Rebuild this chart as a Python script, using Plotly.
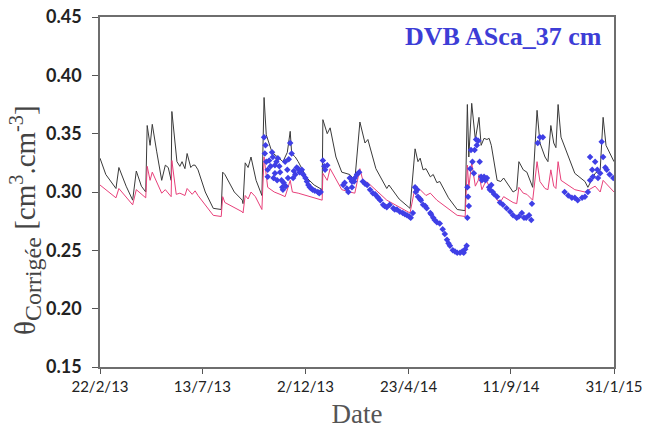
import pandas as pd
import plotly.graph_objects as go

start = pd.Timestamp("2013-02-22")

# Simulated upper curve (black): day offset from 22/2/13, theta
black_days = [0, 8, 22, 26, 36, 45, 50, 57, 63, 65, 69, 72, 78, 85, 90, 94, 98, 99, 106, 110, 113, 117,
              120, 125, 128, 131, 135, 145, 156, 167, 169, 172, 185, 196, 197, 200, 204, 208, 215, 223,
              226, 229, 237, 245, 252, 258, 262, 264, 269, 273, 285, 295, 306, 307, 313, 317, 325, 333,
              344, 351, 358, 365, 369, 380, 395, 398, 412, 427, 434, 438, 441, 445, 449, 455, 459, 464,
              468, 480, 492, 503, 506, 508, 512, 517, 521, 522, 525, 529, 533, 536, 539, 547, 552, 556,
              569, 574, 577, 583, 588, 596, 602, 606, 613, 617, 621, 625, 628, 631, 635, 654, 668, 672,
              682, 689, 693, 697, 708]
black_vals = [0.329, 0.315, 0.303, 0.321, 0.305, 0.293, 0.318, 0.305, 0.300, 0.357, 0.340, 0.358, 0.335,
              0.310, 0.323, 0.321, 0.310, 0.369, 0.326, 0.322, 0.326, 0.320, 0.333, 0.321, 0.323, 0.323,
              0.319, 0.300, 0.286, 0.285, 0.317, 0.315, 0.300, 0.293, 0.290, 0.325, 0.321, 0.330, 0.310,
              0.297, 0.381, 0.349, 0.334, 0.330, 0.326, 0.334, 0.352, 0.333, 0.330, 0.326, 0.312, 0.306,
              0.302, 0.362, 0.350, 0.355, 0.330, 0.317, 0.315, 0.310, 0.360, 0.342, 0.345, 0.320, 0.303,
              0.306, 0.294, 0.286, 0.337, 0.326, 0.329, 0.319, 0.320, 0.313, 0.315, 0.308, 0.309, 0.295,
              0.285, 0.284, 0.375, 0.330, 0.376, 0.345, 0.363, 0.364, 0.340, 0.346, 0.345, 0.346, 0.340,
              0.310, 0.309, 0.312, 0.300, 0.302, 0.326, 0.319, 0.317, 0.304, 0.370, 0.342, 0.330, 0.326,
              0.357, 0.342, 0.338, 0.375, 0.347, 0.316, 0.309, 0.304, 0.316, 0.319, 0.364, 0.340, 0.326]

# Simulated lower curve (pink)
pink_days = [0, 22, 26, 45, 50, 63, 65, 69, 72, 81, 85, 90, 98, 99, 105, 110, 117, 120, 127, 131, 135,
             156, 167, 169, 172, 196, 197, 200, 204, 208, 214, 223, 226, 231, 240, 248, 255, 262, 265,
             273, 285, 306, 307, 313, 317, 333, 344, 351, 358, 362, 369, 395, 427, 434, 441, 449, 455,
             464, 492, 503, 506, 508, 512, 517, 521, 522, 526, 532, 536, 547, 552, 556, 569, 574, 577,
             583, 588, 596, 602, 606, 613, 617, 621, 625, 628, 631, 635, 654, 668, 682, 689, 693, 708]
pink_vals = [0.306, 0.295, 0.303, 0.289, 0.302, 0.295, 0.322, 0.310, 0.317, 0.304, 0.299, 0.302, 0.296,
             0.327, 0.298, 0.299, 0.297, 0.303, 0.298, 0.301, 0.297, 0.280, 0.279, 0.296, 0.291, 0.283,
             0.282, 0.297, 0.294, 0.300, 0.296, 0.285, 0.330, 0.304, 0.300, 0.298, 0.296, 0.310, 0.300,
             0.299, 0.297, 0.293, 0.316, 0.310, 0.320, 0.302, 0.300, 0.299, 0.320, 0.310, 0.308, 0.293,
             0.282, 0.304, 0.302, 0.297, 0.299, 0.293, 0.280, 0.279, 0.323, 0.304, 0.325, 0.305, 0.310,
             0.315, 0.302, 0.310, 0.305, 0.293, 0.292, 0.296, 0.291, 0.290, 0.304, 0.299, 0.298, 0.293,
             0.326, 0.309, 0.303, 0.302, 0.319, 0.305, 0.303, 0.326, 0.310, 0.302, 0.300, 0.305, 0.300,
             0.310, 0.300]

# Measured values (blue diamonds)
meas_days = [226, 227, 228, 229, 231, 231, 233, 235, 237, 238, 239, 241, 241, 243, 244, 245, 247, 248,
             250, 251, 252, 253, 255, 256, 258, 259, 260, 262, 264, 266, 267, 269, 271, 273, 275, 278,
             280, 283, 285, 287, 289, 291, 293, 296, 300, 302, 304,
             307, 309, 310, 313,
             335, 337, 340, 342, 344, 347, 347, 350, 351, 354, 357, 362, 365, 368, 372, 376, 379, 382,
             383, 386, 390, 392, 395, 399, 404, 406, 409, 413, 417, 420, 423, 426, 428, 431,
             434, 435, 437, 438, 441, 442, 445, 448, 450, 455, 456, 459, 461, 464, 468, 472, 475, 478,
             480, 482, 486, 489, 492, 496, 499, 501, 503, 505,
             506, 506, 507, 508, 510, 511, 513, 515, 516, 518, 519, 521, 523, 525, 526, 529, 531, 533,
             536, 537, 539, 541, 543, 547, 551, 555, 560, 565, 569, 574, 577, 581, 584, 587, 591, 594,
             595,
             603, 606, 610,
             640, 645, 650, 654, 658, 664, 668, 672, 675, 675, 678, 679, 682, 685, 686, 689, 691, 693,
             696, 698, 702, 707]
meas_vals = [0.347, 0.333, 0.340, 0.326, 0.319, 0.313, 0.327, 0.322, 0.334, 0.330, 0.312, 0.323, 0.316,
             0.326, 0.310, 0.329, 0.322, 0.317, 0.310, 0.304, 0.302, 0.308, 0.326, 0.305, 0.319, 0.312,
             0.328, 0.342, 0.333, 0.312, 0.318, 0.315, 0.321, 0.320, 0.317, 0.319, 0.315, 0.312, 0.309,
             0.306, 0.304, 0.303, 0.302, 0.301, 0.300, 0.299, 0.300,
             0.327, 0.322, 0.319, 0.323,
             0.306, 0.308, 0.303, 0.300, 0.312, 0.309, 0.304, 0.309, 0.312, 0.315, 0.317, 0.309, 0.307,
             0.306, 0.302, 0.299, 0.298, 0.296, 0.295, 0.293, 0.289, 0.288, 0.287, 0.289, 0.286, 0.285,
             0.285, 0.283, 0.282, 0.281, 0.280, 0.279, 0.278, 0.282,
             0.304, 0.300, 0.302, 0.296, 0.294, 0.293, 0.289, 0.288, 0.286, 0.282, 0.281, 0.278, 0.276,
             0.274, 0.273, 0.268, 0.264, 0.259, 0.256, 0.254, 0.250, 0.249, 0.248, 0.248, 0.249, 0.248,
             0.251, 0.254,
             0.304, 0.278, 0.296, 0.288, 0.320, 0.336, 0.326, 0.316, 0.336, 0.345, 0.340, 0.344, 0.326,
             0.313, 0.310, 0.313, 0.310, 0.312, 0.304, 0.302, 0.306, 0.300, 0.298, 0.296, 0.291, 0.289,
             0.286, 0.283, 0.280, 0.278, 0.279, 0.282, 0.278, 0.278, 0.280, 0.276, 0.290,
             0.342, 0.347, 0.347,
             0.300, 0.297, 0.295, 0.295, 0.293, 0.295, 0.296, 0.300, 0.310, 0.330, 0.319, 0.313, 0.326,
             0.319, 0.312, 0.316, 0.343, 0.330, 0.321, 0.319, 0.315, 0.312]

tick_dates = ["2013-02-22", "2013-07-13", "2013-12-02", "2014-04-23", "2014-09-11", "2015-01-31"]
tick_text = ["22/2/13", "13/7/13", "2/12/13", "23/4/14", "11/9/14", "31/1/15"]
y_ticks = [0.15, 0.20, 0.25, 0.30, 0.35, 0.40, 0.45]


def to_dates(days):
    return start + pd.to_timedelta(days, unit="D")


fig = go.Figure()

fig.add_trace(go.Scatter(
    x=to_dates(black_days), y=black_vals, mode="lines",
    line=dict(color="#3a3a3a", width=1), showlegend=False
))
fig.add_trace(go.Scatter(
    x=to_dates(pink_days), y=pink_vals, mode="lines",
    line=dict(color="#e8407a", width=1), showlegend=False
))
fig.add_trace(go.Scatter(
    x=to_dates(meas_days), y=meas_vals, mode="markers",
    marker=dict(symbol="diamond", size=5, color="#3f3fe6", line=dict(width=0)),
    showlegend=False
))

fig.add_annotation(
    text="<b>DVB ASca_37 cm</b>", xref="paper", yref="paper", x=0.981, y=0.945,
    xanchor="right", yanchor="middle", showarrow=False,
    font=dict(family="Liberation Serif", size=26, color="#3d3dd6")
)

# y axis title placed as a rotated annotation (sits lower than the axis centre)
fig.add_annotation(
    text="θ<sub><span style=\"font-size:24px\">Corrigée</span></sub> [cm<sup>3</sup>.cm<sup>-3</sup>]",
    xref="paper", yref="paper", x=-0.146, y=0.42, textangle=-90,
    xanchor="center", yanchor="middle", showarrow=False,
    font=dict(family="Liberation Serif", size=29, color="#444")
)

fig.update_layout(
    width=650, height=436,
    margin=dict(l=100, r=36, t=17, b=69),
    paper_bgcolor="white", plot_bgcolor="white",
)

fig.update_xaxes(
    range=[pd.Timestamp("2013-02-22"), pd.Timestamp("2015-01-31")],
    tickvals=tick_dates, ticktext=tick_text, automargin=False, ticklabeloverflow="allow",
    ticks="outside", ticklen=5, tickcolor="#555", tickwidth=1,
    showline=True, linecolor="#6e6e6e", linewidth=1.5, mirror=True,
    showgrid=False, zeroline=False,
    tickfont=dict(family="Lato", size=15, color="#222"),
    title=dict(text="Date", font=dict(family="Liberation Serif", size=27, color="#555"), standoff=10)
)
fig.update_yaxes(
    range=[0.15, 0.45], tickvals=y_ticks, tickformat=".2f", automargin=False,
    ticklabeloverflow="allow",
    ticks="outside", ticklen=6, tickcolor="#555", tickwidth=1, ticklabelstandoff=7,
    showline=True, linecolor="#6e6e6e", linewidth=1.5, mirror=True,
    showgrid=False, zeroline=False,
    tickfont=dict(family="Lato", size=18, color="#222", weight="bold"),
)

# drop the browser's default 8px body margin so the figure fills the window
fig.write_html("out.html", config={"displayModeBar": False},
               post_script="document.body.style.margin = '0';")
